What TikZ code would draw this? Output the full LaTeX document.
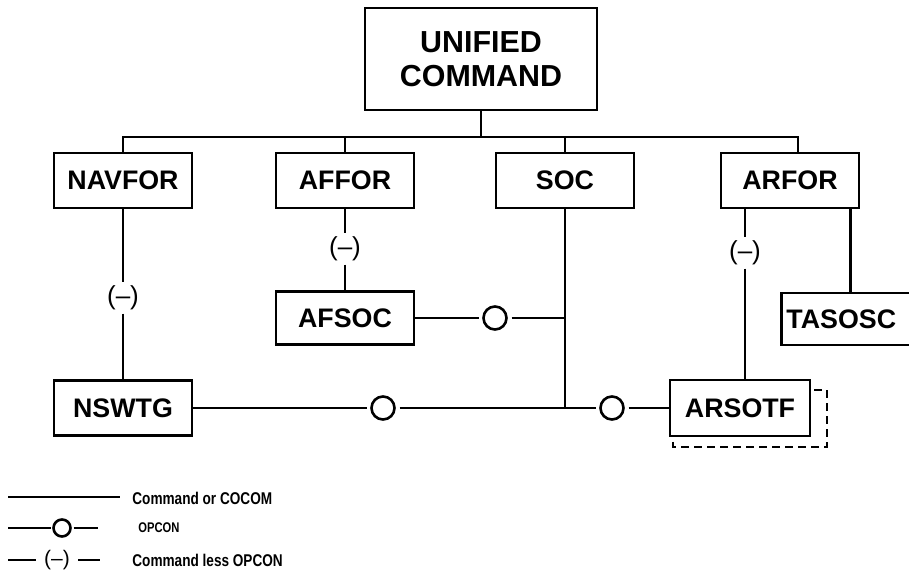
\documentclass[tikz,border=0pt]{standalone}
\usepackage{fontspec}
\setmainfont{Liberation Sans}
\newfontfamily\keyfont{Liberation Sans}[FakeStretch=0.8]
\usetikzlibrary{calc}

\begin{document}
\begin{tikzpicture}[x=0.5pt,y=-0.5pt,
        unit/.style={draw,line width=1.4pt,fill=white,font=\fontsize{13.4}{16}\bfseries,
            minimum width=69pt,minimum height=27.5pt,inner sep=0pt},
        opcon/.style={circle,draw,line width=1.3pt,minimum size=11.5pt,inner sep=0pt,outer sep=2.5pt},
        less/.style={font=\fontsize{13}{15}\selectfont,inner sep=1.5pt},
        key/.style={font=\keyfont\fontsize{8.5}{10}\bfseries,inner sep=0pt,anchor=west},
        link/.style={line width=1.4pt}]
    \useasboundingbox (0,0) rectangle (909,581);
    % top of the chart
    \node[unit,minimum width=116pt,minimum height=51pt,align=center,
        font=\fontsize{15.2}{17}\bfseries] (uc) at (481,59) {UNIFIED\\COMMAND};
    \node[unit] (navfor) at (123,180.5) {NAVFOR};
    \node[unit] (affor) at (345,180.5) {AFFOR};
    \node[unit] (soc) at (565,180.5) {SOC};
    \node[unit] (arfor) at (790,180.5) {ARFOR};
    \coordinate (bus) at (481,137);
    \draw[link] (uc) -- (bus);
    \draw[link] (navfor.north) |- (bus) -| ([xshift=4pt]arfor.north);
    \draw[link] (affor.north) -- (affor.north |- bus);
    \draw[link] (soc.north) -- (soc.north |- bus);
    % lower units
    \node[unit,minimum height=26.5pt] (afsoc) at (345,318) {AFSOC};
    \node[unit] (nswtg) at (123,408) {NSWTG};
    \draw[line width=1pt,dash pattern=on 4pt off 2.5pt] (673,390) rectangle (827,447);
    \node[unit,minimum width=70pt,minimum height=28pt] (arsotf) at (740,408) {ARSOTF};
    \node[unit,anchor=west,minimum width=72pt,minimum height=26pt,inner xsep=2.5pt,
        text width=67pt,align=left] (tasosc) at (780,319) {TASOSC};
    % command less opcon
    \node[less] (l1) at (123,298) {(–)};
    \node[less] (l2) at (345,249) {(–)};
    \node[less] (l3) at (745,253) {(–)};
    \draw[link] (navfor) -- (l1) -- (nswtg);
    \draw[link] (affor) -- (l2) -- (afsoc);
    \draw[link] (l3 |- arfor.south) -- (l3) -- (l3 |- arsotf.north);
    \coordinate (tk) at ([xshift=-5pt]arfor.south east);
    \draw[link] (tk) -- (tk |- tasosc.north);
    % opcon
    \node[opcon] (o1) at (495,318) {};
    \node[opcon] (o2) at (383,408) {};
    \node[opcon] (o3) at (612,408) {};
    \coordinate (j1) at (soc.south |- afsoc);
    \coordinate (j2) at (soc.south |- nswtg);
    \draw[link] (soc) -- (j2);
    \draw[link] (afsoc) -- (o1) -- (j1);
    \draw[link] (nswtg) -- (o2) -- (j2) -- (o3) -- (arsotf);
    % legend
    \coordinate (k1a) at (8,497);
    \coordinate (k1b) at (120,497);
    \draw[line width=1.2pt] (k1a) -- (k1b);
    \node[key] (k1) at (132,498) {Command or COCOM};
    \coordinate (k2a) at (8,528);
    \coordinate (k2b) at (98,528);
    \node[opcon,minimum size=8.5pt,outer sep=1.5pt] (ko) at (62,528) {};
    \draw[line width=1.2pt] (k2a) -- (ko) -- (k2b);
    \node[key,font=\keyfont\fontsize{7}{8}\bfseries] (k2) at (138,528) {OPCON};
    \coordinate (k3a) at (8,560);
    \coordinate (k3b) at (100,560);
    \node[less,font=\fontsize{10.5}{12}\selectfont,inner xsep=4pt] (kl) at (57,560) {(–)};
    \draw[line width=1.2pt] (k3a) -- (kl) -- (k3b);
    \node[key] (k3) at (132,560) {Command less OPCON};
\end{tikzpicture}
\end{document}
